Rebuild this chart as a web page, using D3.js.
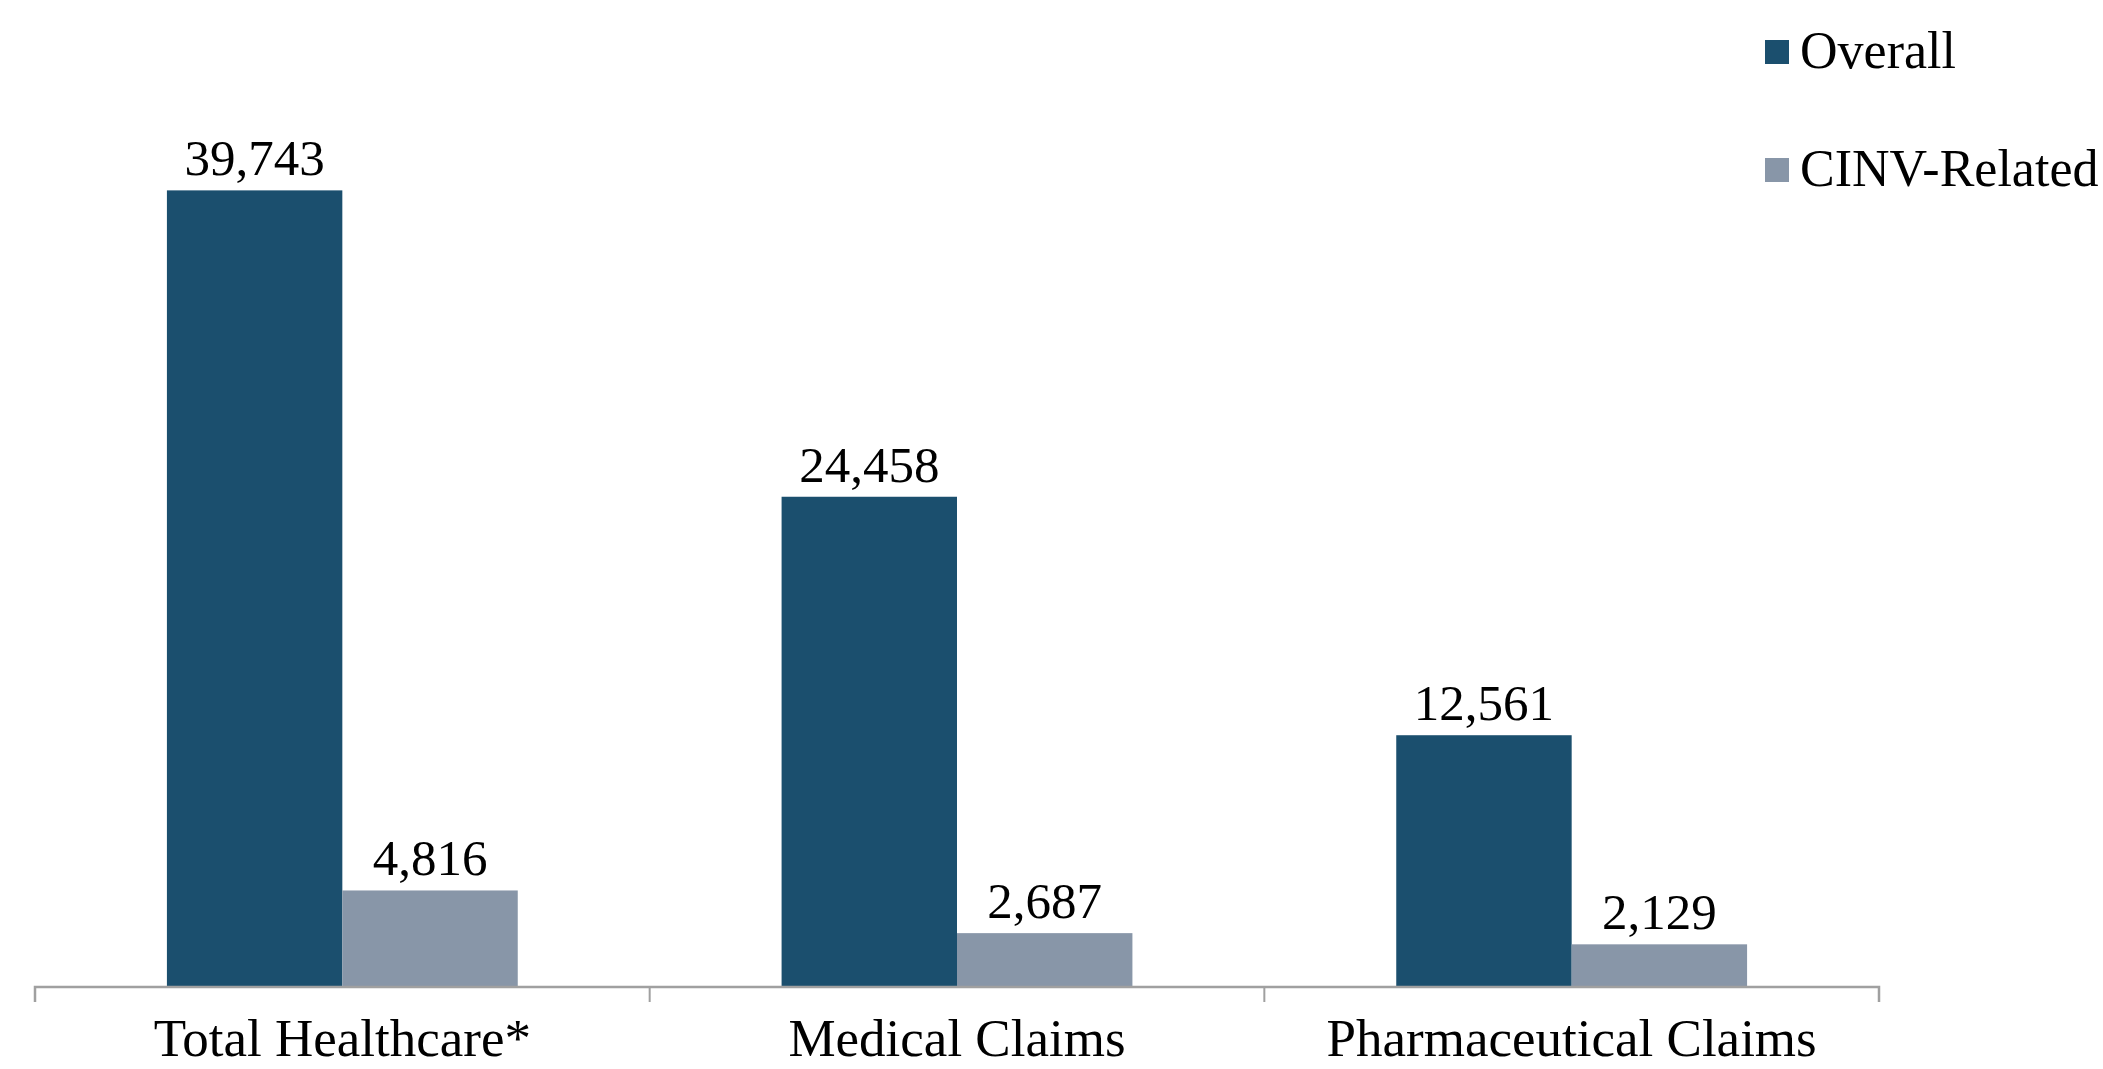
<!DOCTYPE html>
<html>
<head>
<meta charset="utf-8">
<script src="https://cdn.jsdelivr.net/npm/d3@7/dist/d3.min.js"></script>
<style>
  html, body { margin: 0; padding: 0; background: #ffffff; }
  svg { display: block; }
  text { font-family: "Liberation Serif", "Times New Roman", serif; fill: #000; }
</style>
</head>
<body>
<svg id="chart" width="2103" height="1069"></svg>
<script>
const categories = ["Total Healthcare*", "Medical Claims", "Pharmaceutical Claims"];
const seriesNames = ["Overall", "CINV-Related"];
const overallValues = [39743, 24458, 12561];
const cinvValues = [4816, 2687, 2129];
const seriesColors = ["#1B4F6E", "#8896A8"];

const svg = d3.select("#chart");

const x0 = d3.scaleBand().domain(categories).range([35, 1879]).paddingInner(0).paddingOuter(0);
const x1 = d3.scaleBand().domain(seriesNames).range([0, x0.bandwidth()]).paddingInner(0).paddingOuter(0.752);
const y = d3.scaleLinear().domain([0, 45000]).range([987, 85]);
const color = d3.scaleOrdinal().domain(seriesNames).range(seriesColors);

const rows = categories.map((c, i) => ({
  category: c,
  values: [
    { series: seriesNames[0], value: overallValues[i] },
    { series: seriesNames[1], value: cinvValues[i] }
  ]
}));

const fmt = d3.format(",");

const groups = svg.selectAll("g.cat")
  .data(rows)
  .join("g")
  .attr("class", "cat")
  .attr("transform", d => `translate(${x0(d.category)},0)`);

groups.selectAll("rect")
  .data(d => d.values)
  .join("rect")
  .attr("x", d => x1(d.series))
  .attr("width", x1.bandwidth())
  .attr("y", d => y(d.value))
  .attr("height", d => y(0) - y(d.value))
  .attr("fill", d => color(d.series));

groups.selectAll("text.val")
  .data(d => d.values)
  .join("text")
  .attr("class", "val")
  .attr("x", d => x1(d.series) + x1.bandwidth() / 2)
  .attr("y", d => y(d.value) - 15)
  .attr("text-anchor", "middle")
  .style("font-size", "51px")
  .text(d => fmt(d.value));

// x axis
const axis = d3.axisBottom(x0).tickSize(15).tickFormat("").tickSizeOuter(15);
const axisG = svg.append("g")
  .attr("transform", `translate(0,${y(0)})`)
  .call(axis);
axisG.select(".domain").attr("stroke", "#a0a0a0").attr("stroke-width", 2.5)
  .attr("d", `M35,15V0H1879V15`);
axisG.selectAll(".tick").remove();
const bounds = categories.map(c => x0(c)).concat([x0.range()[1]]);
axisG.selectAll("line.bt")
  .data(bounds)
  .join("line")
  .attr("class", "bt")
  .attr("x1", d => d).attr("x2", d => d)
  .attr("y1", 0).attr("y2", 15)
  .attr("stroke", "#a0a0a0").attr("stroke-width", 2);

// category labels
svg.selectAll("text.cat")
  .data(categories)
  .join("text")
  .attr("class", "cat")
  .attr("x", d => x0(d) + x0.bandwidth() / 2)
  .attr("y", 1056)
  .attr("text-anchor", "middle")
  .style("font-size", "53px")
  .text(d => d);

// legend
const legend = svg.selectAll("g.leg")
  .data(seriesNames)
  .join("g")
  .attr("class", "leg")
  .attr("transform", (d, i) => `translate(1765,${40 + i * 118})`);
legend.append("rect")
  .attr("width", 24).attr("height", 24)
  .attr("fill", d => color(d));
legend.append("text")
  .attr("x", 35).attr("y", 28)
  .style("font-size", "52px")
  .text(d => d);
</script>
</body>
</html>
